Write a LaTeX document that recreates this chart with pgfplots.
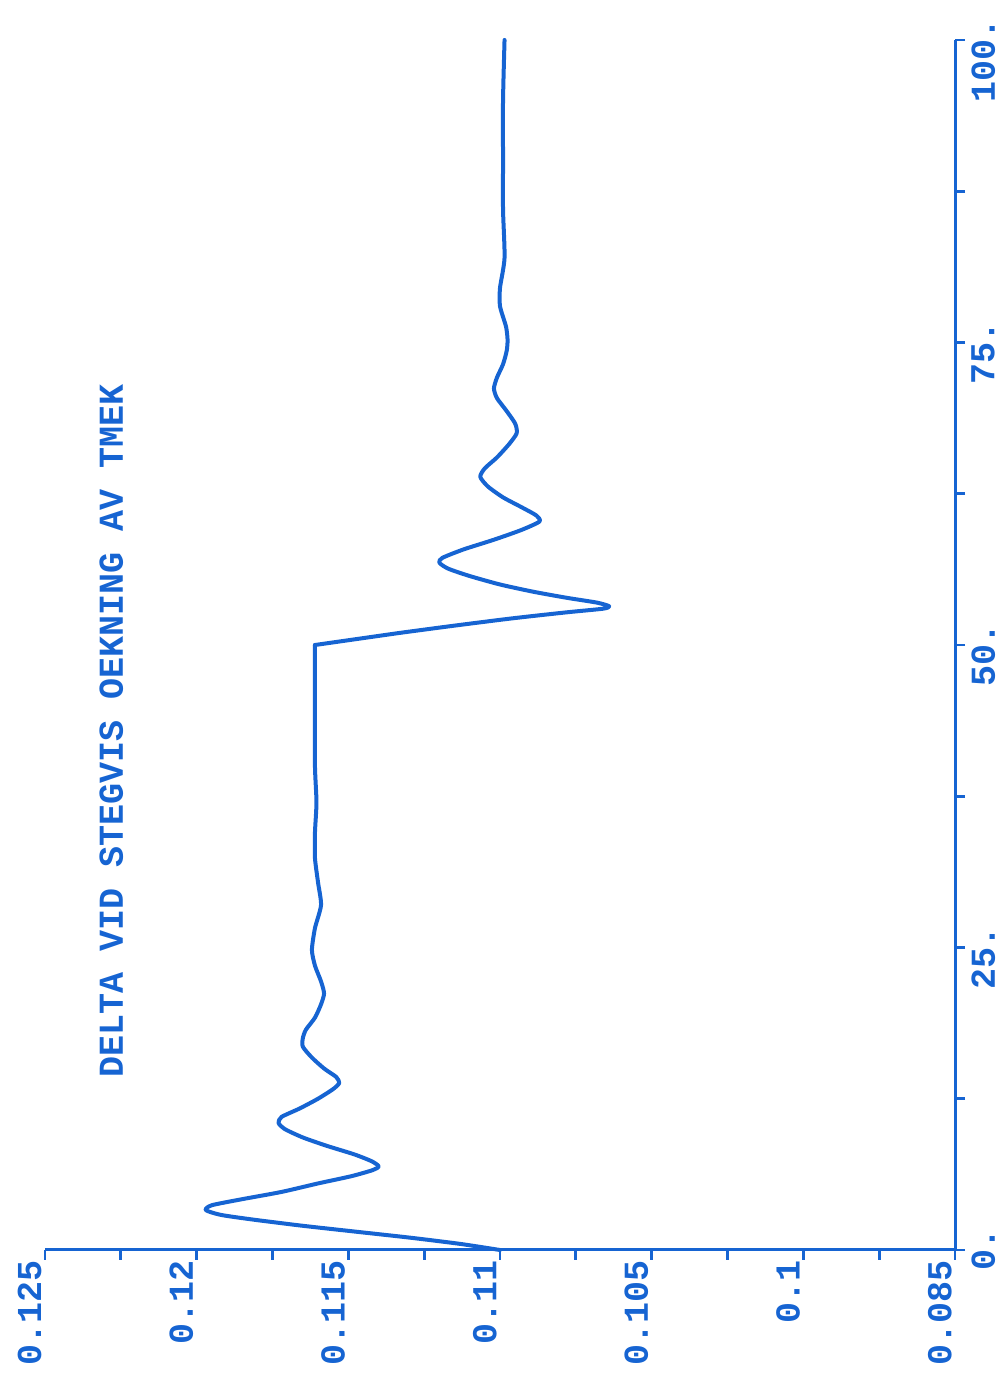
\documentclass[border=0pt]{standalone}
\usepackage{pgfplots}
\pgfplotsset{compat=1.18}
\usepackage{fontspec}
\newfontfamily\plotfont{Liberation Mono}
\definecolor{pen}{RGB}{22,100,210}
\newcommand{\pf}{\plotfont\bfseries\fontsize{17.5}{20}\selectfont}
\begin{document}
\begin{tikzpicture}
\begin{axis}[
  name=ax,
  scale only axis, width=455pt, height=605pt,
  xmin=0.095, xmax=0.125, ymin=0, ymax=100,
  x dir=reverse,
  enlargelimits=false, clip=false,
  axis x line*=bottom, axis y line*=right,
  x axis line style={-, line width=1.5pt, draw=pen},
  y axis line style={-, line width=1.5pt, draw=pen},
  every tick/.style={draw=pen, line width=1.4pt},
  tick align=outside, major tick length=5pt, minor tick length=5pt,
  scaled x ticks=false, scaled y ticks=false,
  xtick={0.095,0.1,0.105,0.11,0.115,0.12,0.125},
  xticklabels={0.085,0.1,0.105,0.11,0.115,0.12,0.125},
  minor xtick={0.0975,0.1025,0.1075,0.1125,0.1175,0.1225},
  ytick={0,25,50,75,100},
  yticklabels={\llap{0}.,\llap{25}.,\llap{50}.,\llap{75}.,\llap{100}.},
  minor ytick={12.5,37.5,62.5,87.5},
  every tick label/.append style={font=\pf, text=pen},
  xticklabel style={rotate=90, anchor=south east, inner xsep=0pt, inner ysep=1.5pt},
  yticklabel style={rotate=90, anchor=north west, inner sep=0pt},
  xticklabel shift=0pt,
  yticklabel shift=3pt,
]
\addplot[pen, line width=2pt, line join=round, line cap=round, smooth, tension=0.4] coordinates {
(0.1100,0) (0.1113,0.5) (0.1129,1.0) (0.1147,1.5) (0.1165,2.0) (0.1181,2.5)
(0.1192,2.9) (0.1197,3.3) (0.1195,3.7) (0.1185,4.2) (0.1172,4.8) (0.1160,5.5)
(0.1149,6.1) (0.1142,6.6) (0.1140,6.9) (0.1142,7.3) (0.1148,7.9) (0.1157,8.6)
(0.1165,9.3) (0.1171,10.0) (0.1173,10.5) (0.1172,11.0) (0.1166,11.7) (0.1160,12.5)
(0.1155,13.3) (0.1153,13.8) (0.1154,14.3) (0.1158,15.0) (0.1162,15.9) (0.1165,16.8)
(0.1165,17.5) (0.1164,18.2) (0.1161,19.2) (0.1159,20.3) (0.1158,21.2) (0.1159,22.2)
(0.1161,23.5) (0.1162,24.8) (0.1161,26.6) (0.1159,28.5) (0.1160,30.4) (0.1161,32.4)
(0.1161,34.5) (0.11605,37) (0.1161,40) (0.1161,45) (0.1161,50)
};
\addplot[pen, line width=2pt, line join=round, line cap=round, smooth, tension=0.4] coordinates {
(0.1161,50)
(0.1147,50.5) (0.1133,51.0) (0.1115,51.6) (0.1096,52.2) (0.1078,52.7) (0.1066,53.0)
(0.1064,53.2) (0.1068,53.5) (0.1078,53.9) (0.1089,54.4) (0.1100,55.0) (0.1110,55.7)
(0.1117,56.3) (0.1120,56.8) (0.1119,57.2) (0.1112,57.9) (0.1102,58.7) (0.1093,59.5)
(0.1087,60.2) (0.1088,60.7) (0.1093,61.4) (0.1099,62.2) (0.1104,63.1) (0.11065,63.9)
(0.1105,64.6) (0.1101,65.5) (0.1097,66.6) (0.10945,67.5) (0.1095,68.3) (0.1098,69.4)
(0.1101,70.4) (0.1102,71.2) (0.1101,72.1) (0.1099,73.2) (0.10978,74.3) (0.10975,75.2)
(0.1098,76.3) (0.1100,78.0) (0.1100,79.5) (0.10985,82) (0.1099,86) (0.1099,90)
(0.1099,95) (0.10985,100)
};
\node[rotate=90, anchor=base west, font=\pf, text=pen, inner sep=0pt] at (axis cs:0.12243,14.2) {DELTA VID STEGVIS OEKNING AV TMEK};
\end{axis}
\pgfresetboundingbox
\path[use as bounding box] (ax.south west) ++(-22.5pt,-65pt) rectangle ([shift={(24pt,20pt)}]ax.north east);
\end{tikzpicture}
\end{document}
